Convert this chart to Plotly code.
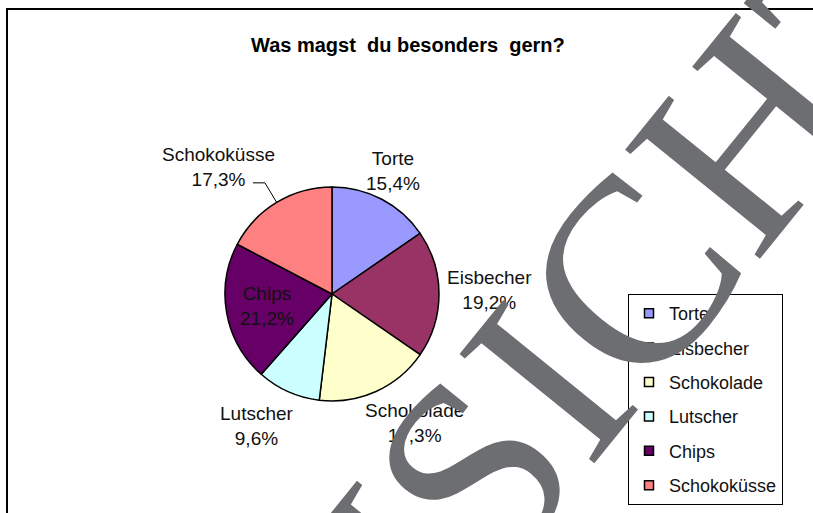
import math
import plotly.graph_objects as go

# ---------------- data ----------------
categories = ["Torte", "Eisbecher", "Schokolade", "Lutscher", "Chips", "Schokoküsse"]
percent_values = [15.4, 19.2, 17.3, 9.6, 21.2, 17.3]
slice_colors = ["#9999FF", "#993366", "#FFFFCC", "#CCFFFF", "#660066", "#FF8080"]

title_text = "Was magst\u00a0 du besonders\u00a0 gern?"
watermark_text = "ANSICHT"

# ---------------- layout constants (styling) ----------------
W, H = 813, 513
CX, CY, R = 332, 294, 107          # pie centre / radius in px
label_dist = [1.28, 1.477, 1.43, 1.42, 0.617, 1.59]   # label distance in radii
label_shift = [-1.3, -1.5, -8.2, 5.6, 0.0, -10.5]     # angular shift in degrees
leader_index = 5                                      # label with leader line


def px(x, y):
    return x / W, 1 - y / H


def fmt_pct(v):
    return f"{v:.1f}%".replace(".", ",")


total = sum(percent_values)
mid_angles = []
acc = 0.0
for v in percent_values:
    mid_angles.append((acc + v / 2) / total * 360.0)
    acc += v

fig = go.Figure()

dx0, dy0 = px(CX - R, CY + R)
dx1, dy1 = px(CX + R, CY - R)
fig.add_trace(go.Pie(
    labels=categories,
    values=percent_values,
    sort=False,
    direction="clockwise",
    rotation=0,
    marker=dict(colors=slice_colors, line=dict(color="black", width=1.5)),
    textinfo="none",
    hoverinfo="label+percent",
    showlegend=False,
    domain=dict(x=[dx0, dx1], y=[dy0, dy1]),
))

# legend entries (one group each so the spacing can be set)
for cat, col in zip(categories, slice_colors):
    fig.add_trace(go.Scatter(
        x=[None], y=[None], mode="markers", name=cat,
        legendgroup=cat,
        marker=dict(symbol="square", size=9, color=col,
                    line=dict(color="black", width=1.5)),
        hoverinfo="skip",
    ))

annotations = []
for i, (cat, v) in enumerate(zip(categories, percent_values)):
    ang = math.radians(mid_angles[i] + label_shift[i])
    d = label_dist[i] * R
    lx = CX + d * math.sin(ang)
    ly = CY - d * math.cos(ang)
    ax_, ay_ = px(lx, ly)
    annotations.append(dict(
        x=ax_, y=ay_, xref="paper", yref="paper",
        text=f"{cat}<br>{fmt_pct(v)}", showarrow=False,
        xanchor="center", yanchor="middle", align="center",
        font=dict(family="Arial, Liberation Sans, sans-serif", size=19, color="#111111"),
    ))

# title
tx, ty = px(408, 45)
annotations.append(dict(
    x=tx, y=ty, xref="paper", yref="paper", text=f"<b>{title_text}</b>",
    showarrow=False, xanchor="center", yanchor="middle",
    font=dict(family="Arial, Liberation Sans, sans-serif", size=20, color="black"),
))

# watermark
wx, wy = px(546, 380)
annotations.append(dict(
    x=wx, y=wy, xref="paper", yref="paper", text=watermark_text,
    showarrow=False, xanchor="center", yanchor="middle", textangle=-51,
    font=dict(family="Liberation Serif, Times New Roman, serif", size=265, color="#6d6e71"),
))

# leader line for the displaced label
ang = math.radians(mid_angles[leader_index])
ex, ey = CX + R * math.sin(ang), CY - R * math.cos(ang)
la = math.radians(mid_angles[leader_index] + label_shift[leader_index])
lx = CX + label_dist[leader_index] * R * math.sin(la)
ly = CY - label_dist[leader_index] * R * math.cos(la)
p0 = px(lx + 34, ly + 16)
p1 = px(lx + 46, ly + 16)
p2 = px(ex, ey)
shapes = [
    dict(type="path", xref="paper", yref="paper",
         path=f"M {p0[0]},{p0[1]} L {p1[0]},{p1[1]} L {p2[0]},{p2[1]}",
         line=dict(color="black", width=1)),
]
# outer chart-area border (left and top edges visible)
b0 = px(7, H + 5)
b1 = px(7, 9)
b2 = px(W + 5, 9)
shapes.append(dict(type="path", xref="paper", yref="paper",
                   path=f"M {b0[0]},{b0[1]} L {b1[0]},{b1[1]} L {b2[0]},{b2[1]}",
                   line=dict(color="black", width=2)))

lx0, ly0 = px(628, 294)
fig.update_layout(
    width=W, height=H,
    margin=dict(l=0, r=0, t=0, b=0),
    paper_bgcolor="white", plot_bgcolor="white",
    xaxis=dict(visible=False), yaxis=dict(visible=False),
    showlegend=True,
    legend=dict(
        x=lx0, y=ly0, xanchor="left", yanchor="top",
        bgcolor="rgba(0,0,0,0)", bordercolor="black", borderwidth=1,
        font=dict(family="Arial, Liberation Sans, sans-serif", size=18, color="#111111"),
        tracegroupgap=8, itemclick=False, itemdoubleclick=False,
    ),
    annotations=annotations,
    shapes=shapes,
)

fig.write_html("out.html")
